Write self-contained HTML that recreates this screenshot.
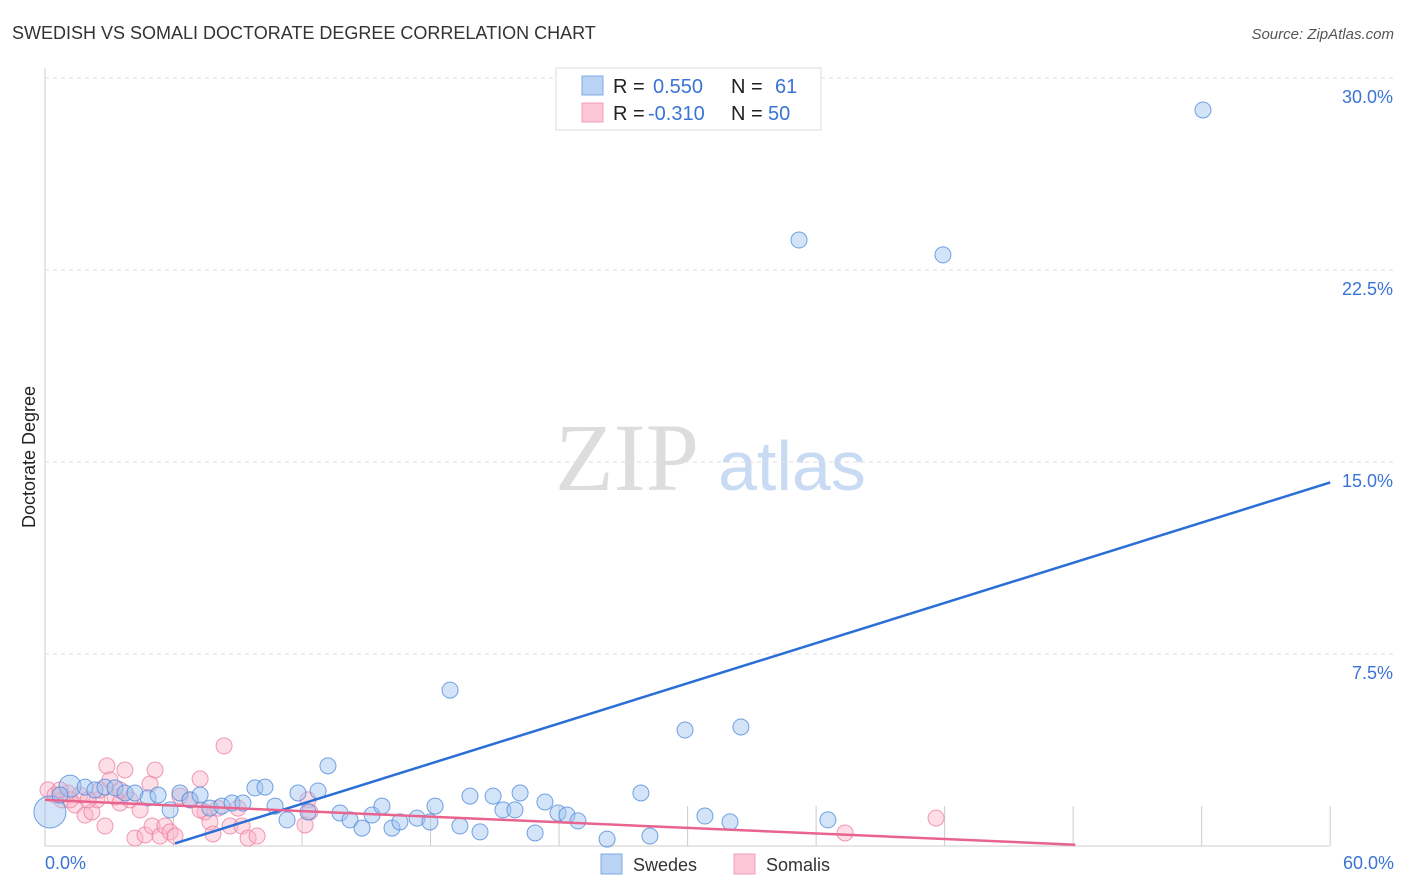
<!DOCTYPE html>
<html><head><meta charset="utf-8"><style>
body{margin:0;background:#fff;font-family:"Liberation Sans",sans-serif;}
#wrap{position:relative;width:1406px;height:892px;overflow:hidden;}
</style></head><body>
<div id="wrap">
<svg id="chart" width="1406" height="892">
<text x="12" y="39" font-size="18" fill="#333">SWEDISH VS SOMALI DOCTORATE DEGREE CORRELATION CHART</text>
<text x="1394" y="39" font-size="15" fill="#555" font-style="italic" text-anchor="end">Source: ZipAtlas.com</text>
<text x="35" y="457" font-size="18" fill="#222" text-anchor="middle" transform="rotate(-90 35 457)">Doctorate Degree</text>
<text x="555" y="490" font-size="96" fill="#ddd" font-family="Liberation Serif,serif">ZIP</text>
<text x="718" y="490" font-size="70" fill="#c9daf3">atlas</text>
<g id="grid"></g>
<g id="pts"></g>
<g id="lines"></g>
<g id="legend">
<rect x="556" y="68" width="265" height="62" fill="#fff" stroke="#ddd"/>
<rect x="582" y="76" width="21" height="19" fill="#b9d3f5" stroke="#7ea8e6"/>
<rect x="582" y="103" width="21" height="19" fill="#fcc6d5" stroke="#f0a0b8"/>
<text x="613" y="93" font-size="20" fill="#222">R = </text><text x="653" y="93" font-size="20" fill="#3a74d4">0.550</text>
<text x="731" y="93" font-size="20" fill="#222">N = </text><text x="775" y="93" font-size="20" fill="#3a74d4">61</text>
<text x="613" y="120" font-size="20" fill="#222">R = </text><text x="648" y="120" font-size="20" fill="#3a74d4">-0.310</text>
<text x="731" y="120" font-size="20" fill="#222">N = </text><text x="768" y="120" font-size="20" fill="#3a74d4">50</text>
</g>
<g>
<rect x="601" y="854" width="21" height="20" fill="#b9d3f5" stroke="#7ea8e6"/>
<text x="633" y="871" font-size="18" fill="#333">Swedes</text>
<rect x="734" y="854" width="21" height="20" fill="#fcc6d5" stroke="#f0a0b8"/>
<text x="766" y="871" font-size="18" fill="#333">Somalis</text>
</g>
</svg>
</div>
<script>
const yTicks=[7.5,15,22.5,30];
const yTickLabels=["7.5%","15.0%","22.5%","30.0%"];
const xTickLabels=["0.0%","60.0%"];
const blueX=[0.23,1.17,0.70,1.87,2.33,2.80,3.27,3.74,4.20,4.81,5.28,5.84,6.30,6.77,7.24,7.70,8.26,8.73,9.24,9.80,10.27,10.74,11.30,11.81,12.28,12.75,13.21,13.77,14.24,14.80,15.27,15.73,16.20,16.57,17.37,17.97,18.21,18.91,19.37,19.84,20.31,20.92,21.38,21.94,22.18,22.88,23.34,23.95,24.37,24.88,26.24,27.82,28.24,29.88,30.81,31.98,32.49,35.20,36.55,41.92,54.06];
const blueY=[1.33,2.34,1.99,2.30,2.19,2.30,2.27,2.07,2.07,1.88,1.99,1.41,2.07,1.80,1.99,1.48,1.56,1.68,1.68,2.27,2.30,1.56,1.02,2.07,1.33,2.15,3.13,1.29,1.02,0.70,1.21,1.56,0.70,0.94,1.09,0.94,1.56,6.09,0.78,1.95,0.55,1.95,1.41,1.41,2.07,0.51,1.72,1.29,1.21,0.98,0.27,2.07,0.39,4.53,1.17,0.94,4.65,23.67,1.02,23.09,28.75];
const pinkX=[0.14,0.47,0.79,1.07,1.40,1.63,1.87,2.19,2.43,2.80,2.89,3.27,3.50,3.73,3.97,4.20,4.44,4.67,4.90,5.00,5.14,5.37,5.60,5.84,6.07,6.30,6.77,7.24,7.47,7.70,7.84,8.08,8.36,8.64,9.01,9.20,9.48,9.90,12.14,12.28,12.37,41.60,37.35,2.57,2.01,7.24,3.50,0.70,1.17,3.03];
const pinkY=[2.19,1.99,1.80,2.07,1.60,1.99,1.21,1.33,1.80,0.78,3.13,1.91,1.68,2.97,1.80,0.31,1.41,0.43,2.42,0.78,2.97,0.39,0.78,0.55,0.39,1.95,1.80,2.62,1.33,0.94,0.47,1.48,3.91,0.78,1.48,0.78,0.31,0.39,0.82,1.80,1.33,1.09,0.51,2.19,1.80,1.41,2.19,2.19,1.80,2.58];
const blueTrend=[6.07,0.1,60,14.2];
const pinkTrend=[0,1.8,48.1,0.05];
const X=v=>45+v*21.42, Y=v=>846-v*25.6;
const NS="http://www.w3.org/2000/svg";
function mk(tag,attrs,parent){const e=document.createElementNS(NS,tag);for(const k in attrs)e.setAttribute(k,attrs[k]);parent.appendChild(e);return e;}
const grid=document.getElementById('grid');
yTicks.forEach((t,i)=>{
 const l=mk('line',{x1:45,x2:1394,y1:Y(t),y2:Y(t),stroke:'#ddd','stroke-dasharray':'4,4'},grid);
 
 
 const tx=mk('text',{x:1393,y:Y(t)+25,'font-size':18,fill:'#3a74d4','text-anchor':'end'},grid);
 tx.textContent=yTickLabels[i];
 
 
});
const ax=mk('path',{d:'M45 68V846H1330',fill:'none',stroke:'#ccc'},grid);


for(let k=1;k<=10;k++){const t=mk('line',{x1:X(6*k),x2:X(6*k),y1:806,y2:846,stroke:'#ccc'},grid);
 
 }
const xl0=mk('text',{x:45,y:869,'font-size':18,fill:'#3a74d4'},grid);xl0.textContent=xTickLabels[0];


const xl1=mk('text',{x:1394,y:869,'font-size':18,fill:'#3a74d4','text-anchor':'end'},grid);xl1.textContent=xTickLabels[1];


const pts=document.getElementById('pts');
pinkX.forEach((x,i)=>{const c=mk('circle',{cx:X(x),cy:Y(pinkY[i]),r:8,fill:'rgba(250,180,200,0.45)',stroke:'rgba(235,130,160,0.8)'},pts);
 
 });
blueX.forEach((x,i)=>{const r=i==0?16:(i==1?11:8);const c=mk('circle',{cx:X(x),cy:Y(blueY[i]),r:r,fill:'rgba(160,195,240,0.45)',stroke:'rgba(80,140,220,0.8)'},pts);
 
 });
const lines=document.getElementById('lines');
const bl=mk('line',{x1:X(blueTrend[0]),y1:Y(blueTrend[1]),x2:X(blueTrend[2]),y2:Y(blueTrend[3]),stroke:'#2a6fd6','stroke-width':2.5},lines);


const pl=mk('line',{x1:X(pinkTrend[0]),y1:Y(pinkTrend[1]),x2:X(pinkTrend[2]),y2:Y(pinkTrend[3]),stroke:'#e8648f','stroke-width':2.5},lines);


</script>
</body></html>
